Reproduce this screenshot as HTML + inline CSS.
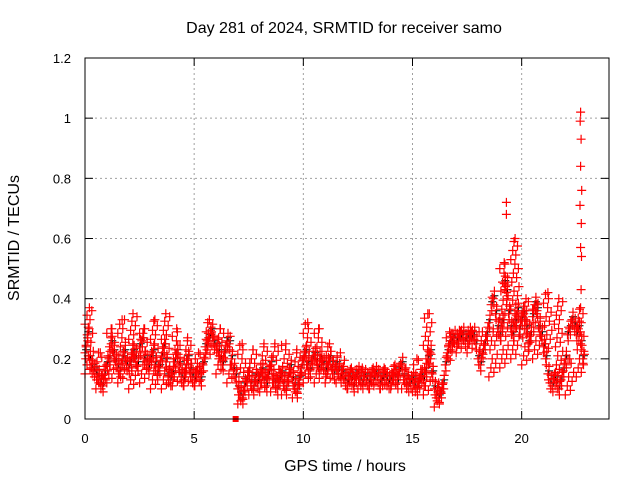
<!DOCTYPE html>
<html><head><meta charset="utf-8"><style>
body{margin:0;background:#fff}
svg{display:block;font-family:"Liberation Sans",sans-serif;font-size:13px}
.t{font-size:16px}
</style></head><body>
<svg id="c" width="640" height="480">
<text class="t" x="344" y="33" text-anchor="middle">Day 281 of 2024, SRMTID for receiver samo</text>
<text class="t" x="345" y="471" text-anchor="middle">GPS time / hours</text>
<text class="t" transform="translate(19,238) rotate(-90)" text-anchor="middle">SRMTID / TECUs</text>
<g id="grid"></g><g id="axes"></g><g id="marks"></g>
<rect x="85" y="58" width="524" height="361" fill="none" stroke="#000"/>
</svg>
<script>
const xTicks=[0,5,10,15,20];
const yTicks=[0,0.2,0.4,0.6,0.8,1,1.2];
const yTickLabels=["0","0.2","0.4","0.6","0.8","1","1.2"];
const midStep=0.1;
const midValues=[.22,.28,.2,.17,.16,.15,.14,.12,.11,.15,
.18,.2,.25,.22,.19,.17,.16,.2,.22,.18,
.17,.19,.22,.2,.18,.24,.26,.2,.19,.17,
.2,.22,.18,.15,.17,.21,.24,.19,.14,.13,
.15,.19,.22,.18,.14,.13,.17,.2,.16,.14,
.13,.16,.15,.13,.18,.24,.26,.27,.29,.25,
.24,.22,.2,.18,.22,.26,.25,.2,.16,.14,
.1,.08,.07,.11,.13,.16,.12,.1,.14,.12,
.14,.16,.13,.11,.15,.18,.14,.12,.1,.13,
.15,.12,.1,.14,.17,.13,.11,.09,.13,.17,
.2,.22,.18,.16,.2,.21,.19,.17,.2,.18,
.16,.18,.2,.17,.15,.18,.16,.14,.15,.13,
.12,.14,.13,.11,.14,.15,.13,.12,.14,.13,
.12,.14,.13,.15,.14,.12,.13,.14,.13,.12,
.13,.15,.14,.12,.16,.18,.14,.12,.11,.12,
.13,.11,.1,.12,.14,.13,.16,.2,.22,.15,
.1,.08,.07,.09,.12,.18,.22,.25,.26,.27,
.26,.27,.27,.28,.26,.27,.28,.27,.28,.25,
.2,.18,.22,.25,.28,.32,.38,.4,.35,.3,
.28,.32,.45,.42,.35,.3,.28,.32,.36,.3,
.33,.35,.3,.25,.28,.34,.38,.36,.3,.28,
.24,.2,.15,.12,.11,.13,.12,.1,.13,.16,
.2,.28,.3,.33,.31,.28,.3,.25,.2];
const colStep=0.5;
const colHigh=[.37,.22,.3,.33,.35,.3,.33,.35,.3,.27,.22,.33,.3,.18,.25,.23,.25,.25,.25,.23,.32,.3,.25,.22,.17,.17,.17,.17,.18,.17,.2,.35,.12,.29,.29,.29,.29,.3,.52,.6,.4,.38,.42,.4,.2,.37];
const colLow=[.15,.1,.12,.12,.1,.12,.1,.1,.11,.11,.11,.2,.15,.12,.05,.08,.09,.09,.08,.07,.12,.12,.12,.12,.1,.1,.1,.1,.1,.1,.09,.08,.04,.18,.22,.22,.2,.14,.17,.2,.18,.2,.22,.15,.08,.14];
const outlierTimes=[19.3,19.3,22.7,22.68,22.72,22.7,22.75,22.67,22.73,22.7,22.74,22.72];
const outlierValues=[.72,.68,1.02,.99,.93,.84,.76,.71,.65,.57,.54,.43];
const NS="http://www.w3.org/2000/svg";
const X=t=>85+t*(524/24), Y=v=>419-v*(361/1.2);
const grid=document.getElementById('grid'),axes=document.getElementById('axes'),marks=document.getElementById('marks');
function mk(tag,attrs,parent){const e=document.createElementNS(NS,tag);for(const k in attrs)e.setAttribute(k,attrs[k]);parent.appendChild(e);return e;}
xTicks.forEach(t=>{const x=X(t);
 if(t>0){const g=mk('line',{x1:x,x2:x,y1:58,y2:419,stroke:'#a0a0a0','stroke-dasharray':'2,3'},grid);
 
 }
 mk('line',{x1:x,x2:x,y1:419,y2:411,stroke:'#000'},axes);
 mk('line',{x1:x,x2:x,y1:58,y2:66,stroke:'#000'},axes);
 const l=mk('text',{x:x,y:443,'text-anchor':'middle'},axes);l.textContent=t;
 
 });
yTicks.forEach((v,i)=>{const y=Y(v);
 if(v>0&&v<1.2){const g=mk('line',{x1:85,x2:609,y1:y,y2:y,stroke:'#a0a0a0','stroke-dasharray':'2,3'},grid);
 
 }
 mk('line',{x1:85,x2:93,y1:y,y2:y,stroke:'#000'},axes);
 mk('line',{x1:601,x2:609,y1:y,y2:y,stroke:'#000'},axes);
 const l=mk('text',{x:71,y:y+5,'text-anchor':'end'},axes);l.textContent=yTickLabels[i];
 
 });
let d='',db='';
function plus(t,v){const x=X(t),y=Y(v);d+=`M${(x-4.5).toFixed(1)} ${y.toFixed(1)}h9M${x.toFixed(1)} ${(y-4.5).toFixed(1)}v9`;}
function plusB(t,v){const x=X(t),y=Y(v);db+=`M${(x-4).toFixed(1)} ${y.toFixed(1)}h8M${x.toFixed(1)} ${(y-4).toFixed(1)}v8`;}
midValues.forEach((v,i)=>{const t=i*midStep;plusB(t+0.05,v+0.01);plus(t,v);plus(t+0.05,v+0.025);plus(t+0.03,v-0.02);});
const offs=[0,0.23,0.09,0.31,0.15,0.38,0.05,0.27,0.12,0.35,0.19];
colHigh.forEach((h,i)=>{const lo=colLow[i];let k=0;for(let v=lo;v<=h+1e-6;v+=0.015){plus(i*colStep+offs[k%offs.length],v);k++;}plus(i*colStep+0.2,h);});
outlierTimes.forEach((t,i)=>plus(t,outlierValues[i]));
const pb=mk('path',{d:db,stroke:'#000','stroke-width':1,fill:'none'},marks);


const p=mk('path',{d:d,stroke:'#f00','stroke-width':1.2,fill:'none'},marks);


const sq=mk('rect',{x:X(6.9)-3,y:Y(0)-3,width:6,height:6,fill:'#f00'},marks);


</script>
</body></html>
